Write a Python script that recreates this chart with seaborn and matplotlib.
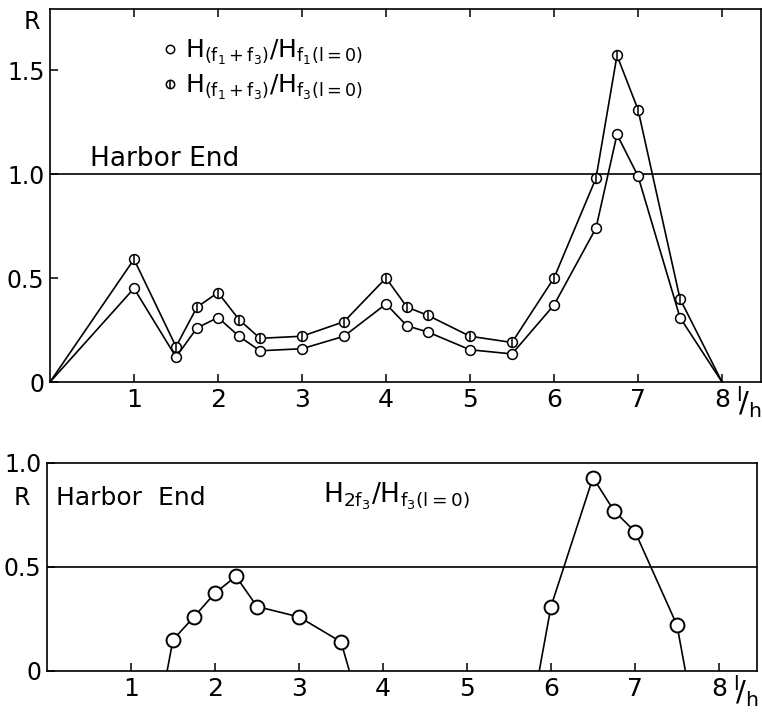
import numpy as np
import pandas as pd
import matplotlib
matplotlib.use("Agg")
import matplotlib.pyplot as plt
import seaborn as sns
from matplotlib.lines import Line2D
from matplotlib.legend_handler import HandlerTuple
import matplotlib.transforms as mtransforms

# ---------------- data ----------------
# top panel: l/h positions
top_x = [0, 1, 1.5, 1.75, 2, 2.25, 2.5, 3, 3.5, 4, 4.25, 4.5, 5, 5.5, 6, 6.5, 6.75, 7, 7.5, 8]
# H(f1+f3)/Hf1(l=0)  (open circles)
ratio_f1 = [0, 0.45, 0.12, 0.26, 0.31, 0.22, 0.15, 0.16, 0.22, 0.375, 0.27, 0.24, 0.155, 0.135, 0.37, 0.74, 1.19, 0.99, 0.31, 0]
# H(f1+f3)/Hf3(l=0)  (crossed circles)
ratio_f3 = [0, 0.59, 0.17, 0.36, 0.43, 0.30, 0.21, 0.22, 0.29, 0.50, 0.36, 0.32, 0.22, 0.19, 0.50, 0.98, 1.57, 1.31, 0.40, 0]

# bottom panel: H2f3/Hf3(l=0)
bot_left_x = [1.5, 1.75, 2, 2.25, 2.5, 3, 3.5]
bot_left_y = [0.15, 0.26, 0.375, 0.455, 0.31, 0.26, 0.14]
bot_left_ends = [1.43, 3.6]     # where the curve meets R = 0
bot_right_x = [6, 6.5, 6.75, 7, 7.5]
bot_right_y = [0.31, 0.93, 0.77, 0.67, 0.22]
bot_right_ends = [5.86, 7.6]

xticks = [1, 2, 3, 4, 5, 6, 7, 8]
top_yticks = [0, 0.5, 1.0, 1.5]
top_ylabels = ["0", "0.5", "1.0", "1.5"]
bot_yticks = [0, 0.5, 1.0]
bot_ylabels = ["0", "0.5", "1.0"]

# ---------------- style ----------------
sns.set_theme(style="ticks")
plt.rcParams["font.family"] = ["DejaVu Sans"]
plt.rcParams["mathtext.default"] = "regular"
plt.rcParams["axes.linewidth"] = 1.1
for k in ["text.color", "axes.labelcolor", "xtick.color", "ytick.color", "axes.edgecolor"]:
    plt.rcParams[k] = "black"

W, H = 762, 712
fig = plt.figure(figsize=(W / 100, H / 100), dpi=100)
fig.patch.set_facecolor("white")

ax1 = fig.add_axes([50 / W, (H - 382) / H, 711 / W, 373 / H])
ax2 = fig.add_axes([47 / W, (H - 671) / H, 710 / W, 208 / H])

lw = 1.2
df_top = pd.DataFrame({"x": top_x, "f1": ratio_f1, "f3": ratio_f3})

# lines
sns.lineplot(data=df_top, x="x", y="f1", ax=ax1, color="black", lw=lw, sort=False)
sns.lineplot(data=df_top, x="x", y="f3", ax=ax1, color="black", lw=lw, sort=False)
inner = df_top.iloc[1:-1]
sns.scatterplot(data=inner, x="x", y="f1", ax=ax1, marker="o", s=50,
                facecolor="white", edgecolor="black", linewidth=1.1, zorder=5)
sns.scatterplot(data=inner, x="x", y="f3", ax=ax1, marker="o", s=50,
                facecolor="white", edgecolor="black", linewidth=1.1, zorder=5)
sns.scatterplot(data=inner, x="x", y="f3", ax=ax1, marker="|", s=50,
                color="black", linewidth=1.1, zorder=6)

ax1.axhline(1.0, color="black", lw=lw, zorder=1)
ax1.set_xlim(0, 711 / 84)
ax1.set_ylim(0, 373 / 208)

# bottom panel
for xs, ys, ends in [(bot_left_x, bot_left_y, bot_left_ends),
                     (bot_right_x, bot_right_y, bot_right_ends)]:
    lx = [ends[0]] + xs + [ends[1]]
    ly = [0] + ys + [0]
    sns.lineplot(x=lx, y=ly, ax=ax2, color="black", lw=lw, sort=False)
    sns.scatterplot(x=xs, y=ys, ax=ax2, marker="o", s=100,
                    facecolor="white", edgecolor="black", linewidth=1.4, zorder=5)
ax2.axhline(0.5, color="black", lw=lw, zorder=1)
ax2.set_xlim(0, 710 / 84)
ax2.set_ylim(0, 1.0)

for ax, yt, yl in [(ax1, top_yticks, top_ylabels), (ax2, bot_yticks, bot_ylabels)]:
    ax.set_xticks(xticks)
    ax.set_xticklabels([str(v) for v in xticks], fontsize=18)
    ax.set_yticks(yt)
    ax.set_yticklabels(yl, fontsize=17)
    ax.set_xlabel("")
    ax.set_ylabel("")
    for s in ax.spines.values():
        s.set_visible(True)
        s.set_color("black")
        s.set_linewidth(lw)
    ax.tick_params(axis="both", direction="in", length=6, width=1.1, colors="black")
    ax.tick_params(axis="x", pad=4)
    ax.tick_params(axis="y", pad=4)
    ax.set_facecolor("white")
    ax.grid(False)

ax1.tick_params(axis="x", top=True)

# axis annotations
ax1.text(-0.025, 0.965, "R", transform=ax1.transAxes, fontsize=17, ha="center", va="center")
ax2.text(-0.036, 0.83, "R", transform=ax2.transAxes, fontsize=17, ha="center", va="center")
for ax in (ax1, ax2):
    tr = mtransforms.blended_transform_factory(ax.transData, ax.transAxes)
    ax.annotate(r"$^{l}\!/_{h}$", xy=(8, 0), xycoords=tr, textcoords="offset pixels",
                xytext=(27, -20), fontsize=21, ha="center", va="center",
                annotation_clip=False)

ax1.text(0.48, 1.07, "Harbor End", fontsize=19, ha="left", va="center")
ax2.text(0.107, 0.83, "Harbor  End", fontsize=18, ha="left", va="center")
ax2.text(3.28, 0.84, r"$H_{2f_3}/H_{f_3(l=0)}$", fontsize=19, ha="left", va="center")

# legend
h_open = Line2D([], [], marker="o", ls="none", mfc="white", mec="black", ms=6, mew=1.1)
h_cross_c = Line2D([], [], marker="o", ls="none", mfc="white", mec="black", ms=6, mew=1.1)
h_cross_b = Line2D([], [], marker="|", ls="none", color="black", ms=6, mew=1.1)
ax1.legend([h_open, (h_cross_c, h_cross_b)],
           [r"$H_{(f_1+f_3)}/H_{f_1(l=0)}$", r"$H_{(f_1+f_3)}/H_{f_3(l=0)}$"],
           handler_map={tuple: HandlerTuple(ndivide=1, pad=0)},
           loc="upper left", bbox_to_anchor=(0.16, 0.922), frameon=False,
           fontsize=18, handlelength=0.5, handletextpad=0.35, labelspacing=0.22,
           borderpad=0, borderaxespad=0)

fig.savefig("out.png", dpi=100, facecolor="white")
